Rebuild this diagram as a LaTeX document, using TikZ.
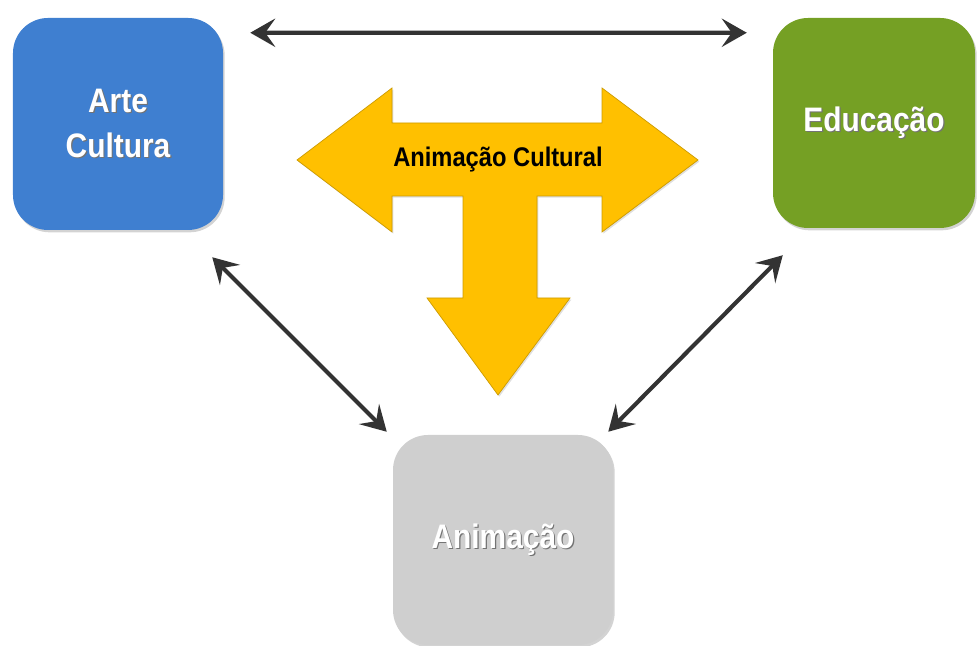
\documentclass[tikz,border=0pt]{standalone}
\usepackage{fontspec}
\setmainfont[FakeStretch=0.88]{Liberation Sans}
\usetikzlibrary{calc,
arrows.meta,
shadows,
positioning}
\definecolor{arteblue}{RGB}{63,127,208}
\definecolor{edugreen}{RGB}{117,160,36}
\definecolor{animgray}{RGB}{207,207,207}
\definecolor{tyellow}{RGB}{255,192,0}
\definecolor{tedge}{RGB}{205,155,0}
\definecolor{linkgray}{RGB}{51,51,51}
\newcommand{\shtext}[1]{\makebox[0pt][l]{\hspace{1pt}\raisebox{-1.2pt}{\color{black!55}#1}}#1}

\begin{document}
\begin{tikzpicture} [>={Stealth[length=0.75cm, width=0.85cm, inset=0.3cm]},
    link/.style={<->, draw=linkgray, line width=3.5pt},
    main node/.style={rectangle, draw=none, rounded corners=1.05cm,
        align=center, text=white,
        font={\fontsize{29}{38}\selectfont\bfseries},
        drop shadow={shadow xshift=0.5mm, shadow yshift=-0.7mm, opacity=0.35}}
  ]

  \useasboundingbox (0,0) rectangle (29.31,19.38);

  \node [main node,
    fill = arteblue,
    minimum width = 6.3cm,
    minimum height = 6.36cm
  ] (arte) at (3.54, 15.66) {\shtext{Arte}\\\shtext{Cultura}};
  \node [main node,
    fill = edugreen,
    minimum width = 6.06cm,
    minimum height = 6.3cm
  ] (educ) at (26.22, 15.69) {\shtext{Educação}};
  \node [main node,
    fill = animgray,
    minimum width = 6.6cm,
    minimum height = 6.3cm
  ] (anim) at (15.09, 3.18) {\shtext{Animação}};


  \draw [fill = tyellow, draw = tedge, line width = 0.6pt,
    drop shadow={shadow xshift=0.4mm, shadow yshift=-0.5mm, opacity=0.25}]
    (8.91, 14.58) -- (11.76, 16.74) -- (11.76, 15.69) -- (18.06, 15.69)
    -- (18.06, 16.74) -- (20.94, 14.58) -- (18.06, 12.42) -- (18.06, 13.50)
    -- (16.11, 13.50) -- (16.11, 10.44) -- (17.10, 10.44) -- (14.94, 7.53)
    -- (12.81, 10.44) -- (13.89, 10.44) -- (13.89, 13.50) -- (11.76, 13.50)
    -- (11.76, 12.42) -- cycle;

  \node [font={\fontsize{23}{28}\selectfont\bfseries}] (acult) at (14.94, 14.58) {Animação Cultural};


  \draw [link] ($(arte.north east) + (0.81, -0.45)$) -- ($(educ.north west) + (-0.78, -0.45)$);
  \draw [link] ($(arte.south east) + (-0.33, -0.81)$) -- ($(anim.north west) + (-0.18, 0.09)$);
  \draw [link] ($(educ.south west) + (0.3, -0.81)$) -- ($(anim.north east) + (-0.15, 0.09)$);

\end{tikzpicture}
\end{document}
